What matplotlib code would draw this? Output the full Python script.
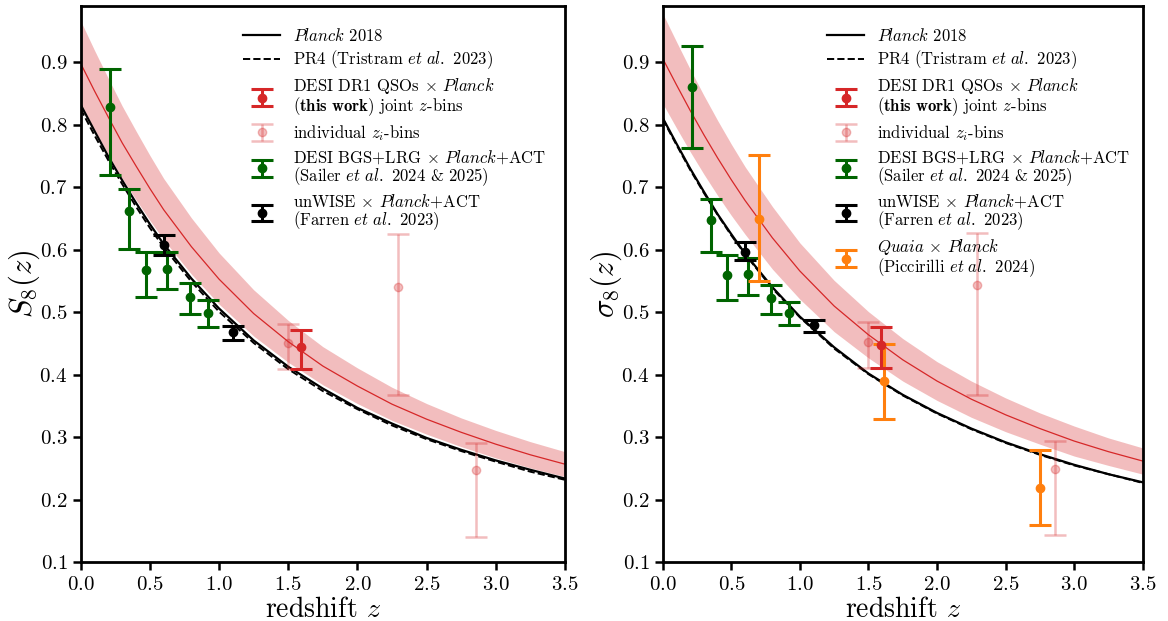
import numpy as np
import matplotlib
matplotlib.use('Agg')
import matplotlib.pyplot as plt

plt.rcParams['font.family'] = 'cmr10'
plt.rcParams['mathtext.fontset'] = 'cm'
plt.rcParams['axes.formatter.use_mathtext'] = True
plt.rcParams['axes.unicode_minus'] = False

# theory curves on a redshift grid
z_grid = [0.0, 0.1, 0.2, 0.3, 0.4, 0.5, 0.6, 0.8, 1.0, 1.25, 1.5, 1.75,
          2.0, 2.25, 2.5, 2.75, 3.0, 3.25, 3.5]

s8_planck = [0.832, 0.790, 0.749, 0.711, 0.675, 0.641, 0.609, 0.554, 0.506,
             0.455, 0.413, 0.378, 0.347, 0.322, 0.299, 0.280, 0.263, 0.248,
             0.234]
s8_pr4 = [0.825, 0.783, 0.743, 0.705, 0.669, 0.635, 0.604, 0.549, 0.501,
          0.451, 0.409, 0.374, 0.345, 0.319, 0.297, 0.278, 0.261, 0.245,
          0.232]
s8_qso = [0.898, 0.854, 0.812, 0.771, 0.734, 0.698, 0.664, 0.605, 0.553,
          0.498, 0.453, 0.414, 0.382, 0.353, 0.329, 0.308, 0.289, 0.272,
          0.257]
s8_qso_hi = [0.966, 0.919, 0.874, 0.830, 0.790, 0.751, 0.714, 0.651, 0.595,
             0.536, 0.487, 0.445, 0.411, 0.380, 0.354, 0.331, 0.311, 0.293,
             0.277]
s8_qso_lo = [0.834, 0.792, 0.752, 0.714, 0.680, 0.647, 0.616, 0.561, 0.513,
             0.462, 0.420, 0.384, 0.354, 0.327, 0.305, 0.285, 0.267, 0.251,
             0.237]

sig8_planck = [0.811, 0.770, 0.730, 0.693, 0.657, 0.625, 0.594, 0.540, 0.493,
               0.444, 0.402, 0.368, 0.339, 0.314, 0.292, 0.273, 0.256, 0.241,
               0.228]
sig8_pr4 = [0.809, 0.768, 0.728, 0.691, 0.656, 0.623, 0.593, 0.538, 0.492,
            0.442, 0.401, 0.367, 0.338, 0.313, 0.291, 0.272, 0.255, 0.241,
            0.227]
sig8_qso = [0.906, 0.864, 0.823, 0.784, 0.747, 0.712, 0.679, 0.619, 0.566,
            0.510, 0.464, 0.424, 0.390, 0.361, 0.336, 0.314, 0.294, 0.277,
            0.262]
sig8_qso_hi = [0.978, 0.933, 0.889, 0.847, 0.807, 0.769, 0.733, 0.669, 0.611,
               0.551, 0.501, 0.458, 0.421, 0.390, 0.363, 0.339, 0.318, 0.299,
               0.283]
sig8_qso_lo = [0.834, 0.795, 0.757, 0.721, 0.687, 0.655, 0.625, 0.569, 0.521,
               0.469, 0.427, 0.390, 0.359, 0.332, 0.309, 0.289, 0.270, 0.255,
               0.241]

# measurements: value, lower error, upper error
z_joint = [1.59]
s8_joint = [0.444]
s8_joint_err = [[0.035], [0.028]]
sig8_joint = [0.448]
sig8_joint_err = [[0.037], [0.028]]

z_indiv = [1.50, 2.29, 2.86]
s8_indiv = [0.451, 0.540, 0.247]
s8_indiv_err = [[0.042, 0.172, 0.106], [0.031, 0.086, 0.044]]
sig8_indiv = [0.453, 0.544, 0.249]
sig8_indiv_err = [[0.042, 0.176, 0.106], [0.031, 0.083, 0.045]]

z_desi = [0.21, 0.35, 0.47, 0.625, 0.79, 0.92]
s8_desi = [0.828, 0.662, 0.568, 0.569, 0.524, 0.499]
s8_desi_err = [[0.108, 0.061, 0.043, 0.032, 0.026, 0.022],
               [0.062, 0.035, 0.029, 0.027, 0.023, 0.020]]
sig8_desi = [0.861, 0.647, 0.560, 0.561, 0.523, 0.499]
sig8_desi_err = [[0.098, 0.050, 0.040, 0.034, 0.026, 0.019],
                 [0.065, 0.035, 0.031, 0.026, 0.021, 0.018]]

z_unwise = [0.60, 1.10]
s8_unwise = [0.608, 0.468]
s8_unwise_err = [[0.016, 0.012], [0.015, 0.010]]
sig8_unwise = [0.597, 0.479]
sig8_unwise_err = [[0.013, 0.010], [0.015, 0.009]]

z_quaia = [0.70, 1.61, 2.75]
sig8_quaia = [0.650, 0.390, 0.219]
sig8_quaia_err = [[0.100, 0.060, 0.060], [0.101, 0.060, 0.061]]

RED = '#d62728'
GREEN = '#006400'
ORANGE = '#ff7f0e'

fig = plt.figure(figsize=(11.68, 6.21), dpi=100)
ax1 = fig.add_axes([0.0691, 0.0945, 0.4146, 0.8958])
ax2 = fig.add_axes([0.5674, 0.0945, 0.4110, 0.8958])

eb = dict(fmt='o', ms=6, capsize=8, elinewidth=2.2, capthick=2.2)


def draw_panel(ax, planck, pr4, qso, qso_lo, qso_hi, joint, joint_err,
               indiv, indiv_err, desi, desi_err, unwise, unwise_err,
               quaia=None, quaia_err=None, leg_x=0.3):
    ax.fill_between(z_grid, qso_lo, qso_hi, color=RED, alpha=0.3, lw=0,
                    zorder=1)
    ax.plot(z_grid, qso, color=RED, lw=0.9, zorder=2)
    ax.plot(z_grid, planck, color='k', lw=1.6, zorder=3,
            label=r'$\mathit{Planck}$ 2018')
    ax.plot(z_grid, pr4, color='k', lw=1.4, ls='--', zorder=3,
            label=r'PR4 (Tristram $\mathit{et\ al.}$ 2023)')

    ax.errorbar(z_joint, joint, yerr=joint_err, color=RED, zorder=6,
                label='DESI DR1 QSOs $\\times$ $\\mathit{Planck}$\n'
                      '$\\mathbf{(this\\ work)}$ joint $z$-bins', **eb)
    ax.errorbar(z_indiv, indiv, yerr=indiv_err, color=RED, alpha=0.3,
                fmt='o', ms=6, capsize=8, elinewidth=1.8, capthick=1.8,
                zorder=4, label='individual $z_i$-bins')
    ax.errorbar(z_desi, desi, yerr=desi_err, color=GREEN, zorder=5,
                label='DESI BGS+LRG $\\times$ $\\mathit{Planck}$+ACT\n'
                      '(Sailer $\\mathit{et\\ al.}$ 2024 & 2025)', **eb)
    ax.errorbar(z_unwise, unwise, yerr=unwise_err, color='k', zorder=5,
                label='unWISE $\\times$ $\\mathit{Planck}$+ACT\n'
                      '(Farren $\\mathit{et\\ al.}$ 2023)', **eb)
    if quaia is not None:
        ax.errorbar(z_quaia, quaia, yerr=quaia_err, color=ORANGE, zorder=5,
                    label='$\\mathit{Quaia}$ $\\times$ $\\mathit{Planck}$\n'
                          '(Piccirilli $\\mathit{et\\ al.}$ 2024)', **eb)

    ax.set_xlim(0, 3.5)
    ax.set_ylim(0.1, 0.99)
    ax.set_xticks(np.arange(0, 3.51, 0.5))
    ax.set_yticks(np.arange(0.1, 0.91, 0.1))
    ax.tick_params(direction='out', length=6, width=1.8, labelsize=15)
    for s in ax.spines.values():
        s.set_linewidth(2)
    ax.set_xlabel('redshift $z$', fontsize=20, labelpad=2)

    leg = ax.legend(loc='upper left', bbox_to_anchor=(leg_x, 0.99),
                    frameon=False, fontsize=12, handlelength=2.2,
                    labelspacing=0.3, handletextpad=0.8)
    for t in leg.get_texts():
        t.set_linespacing(0.95)
    return leg


draw_panel(ax1, s8_planck, s8_pr4, s8_qso, s8_qso_lo, s8_qso_hi,
           s8_joint, s8_joint_err, s8_indiv, s8_indiv_err,
           s8_desi, s8_desi_err, s8_unwise, s8_unwise_err, leg_x=0.305)
ax1.set_ylabel('$S_8(z)$', fontsize=22, labelpad=-2)

draw_panel(ax2, sig8_planck, sig8_pr4, sig8_qso, sig8_qso_lo, sig8_qso_hi,
           sig8_joint, sig8_joint_err, sig8_indiv, sig8_indiv_err,
           sig8_desi, sig8_desi_err, sig8_unwise, sig8_unwise_err,
           sig8_quaia, sig8_quaia_err, leg_x=0.312)
ax2.set_ylabel(r'$\sigma_8(z)$', fontsize=22, labelpad=-2)

fig.savefig('out.png', dpi=100)
